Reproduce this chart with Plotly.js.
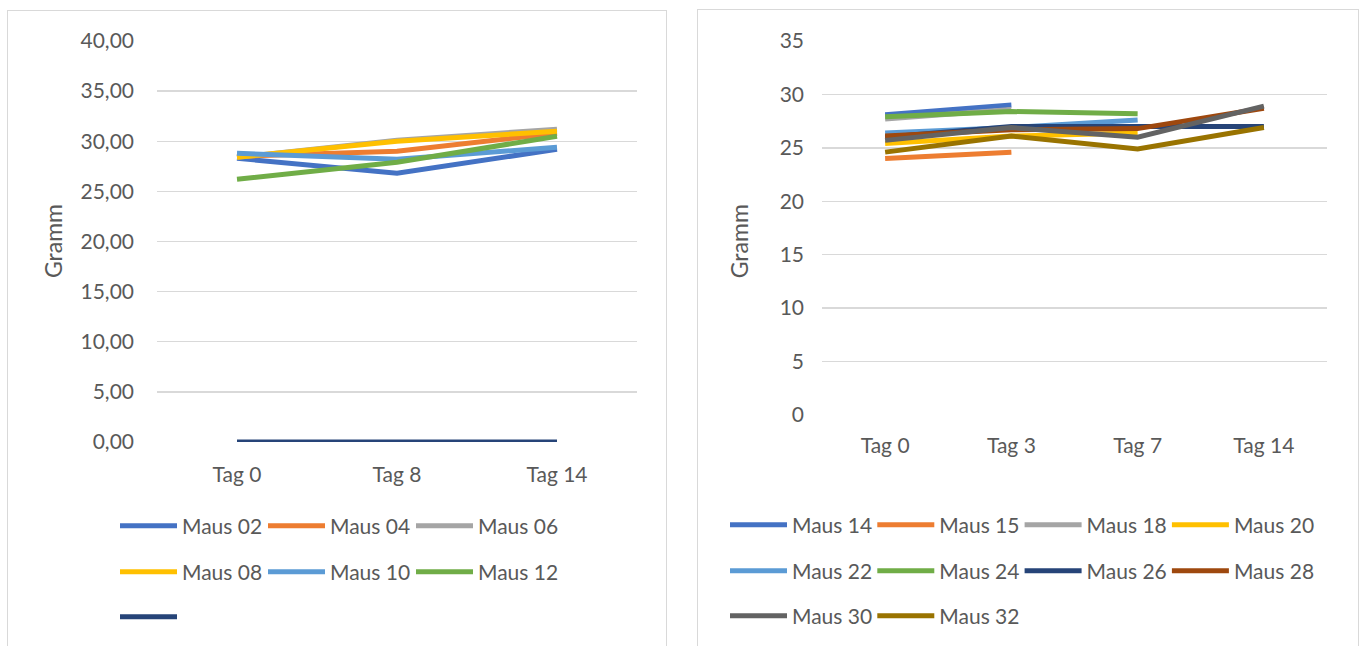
<!DOCTYPE html>
<html>
<head>
<meta charset="utf-8">
<script src="https://cdn.plot.ly/plotly-3.0.1.min.js"></script>
<style>
  html, body { margin: 0; padding: 0; background: #ffffff; width: 1363px; height: 646px; overflow: hidden; }
  .panel { position: absolute; box-sizing: border-box; border: 1px solid #d9d9d9; background: #fff; overflow: hidden; }
  #p1 { left: 7px; top: 10px; width: 660px; height: 650px; }
  #p2 { left: 697px; top: 9px; width: 662px; height: 650px; }
</style>
</head>
<body>
<div class="panel" id="p1"><div id="c1"></div></div>
<div class="panel" id="p2"><div id="c2"></div></div>
<script>
// ---- Left chart data ----
const daysLeft = ["Tag 0", "Tag 8", "Tag 14"];
const namesLeft = ["Maus 02", "Maus 04", "Maus 06", "Maus 08", "Maus 10", "Maus 12", ""];
const maus02 = [28.3, 26.8, 29.2];
const maus04 = [28.5, 29.0, 30.8];
const maus06 = [28.4, 30.1, 31.2];
const maus08 = [28.4, 30.0, 31.0];
const maus10 = [28.8, 28.2, 29.4];
const maus12 = [26.2, 27.9, 30.5];
const mausLeer = [0, 0, 0];
const yTicksLeft = [0, 5, 10, 15, 20, 25, 30, 35, 40];

// ---- Right chart data ----
const daysRight = ["Tag 0", "Tag 3", "Tag 7", "Tag 14"];
const namesRight = ["Maus 14", "Maus 15", "Maus 18", "Maus 20", "Maus 22", "Maus 24", "Maus 26", "Maus 28", "Maus 30", "Maus 32"];
const maus14 = [28.1, 29.0, null, null];
const maus15 = [24.0, 24.6, null, null];
const maus18 = [27.7, 28.6, null, null];
const maus20 = [25.4, 26.1, 26.4, null];
const maus22 = [26.4, 26.9, 27.6, null];
const maus24 = [27.9, 28.4, 28.2, null];
const maus26 = [26.0, 27.0, 27.0, 27.0];
const maus28 = [26.1, 26.7, 26.8, 28.7];
const maus30 = [25.7, 26.9, 26.0, 28.9];
const maus32 = [24.6, 26.1, 24.9, 26.9];
const yTicksRight = [0, 5, 10, 15, 20, 25, 30, 35];

const colors = ["#4472C4", "#ED7D31", "#A5A5A5", "#FFC000", "#5B9BD5", "#70AD47", "#264478", "#9E480E", "#636363", "#997300"];
const FONT = "Lato, 'Open Sans', sans-serif";
const TXT = "#595959";

function mkTrace(x, y, name, color, legend) {
  return { type: "scatter", mode: "lines", x: x, y: y, name: name, legend: legend,
           line: { color: color, width: 5 }, connectgaps: false, hoverinfo: "skip" };
}

function legendCfg(xPos, yPos, ew) {
  return { orientation: "h", xref: "container", yref: "container", x: xPos, y: yPos,
           xanchor: "left", yanchor: "middle", entrywidth: ew, entrywidthmode: "pixels",
           itemwidth: 57, font: { family: FONT, size: 21, color: TXT }, bgcolor: "rgba(0,0,0,0)",
           traceorder: "normal", itemclick: false, itemdoubleclick: false };
}

// Left chart
const leftSeries = [maus02, maus04, maus06, maus08, maus10, maus12, mausLeer];
const leftLegends = ["legend", "legend", "legend", "legend2", "legend2", "legend2", "legend3"];
const tracesL = leftSeries.map((s, i) => mkTrace(daysLeft, s, namesLeft[i], colors[i], leftLegends[i]));

const W1 = 658, H1 = 648;
const layoutL = {
  width: W1, height: H1,
  margin: { l: 149, r: 29, t: 30, b: 216.5 },
  paper_bgcolor: "#fff", plot_bgcolor: "#fff",
  separators: ", ",
  font: { family: FONT, size: 21, color: TXT },
  showlegend: true,
  xaxis: { type: "category", range: [-0.5, 2.5], showgrid: false, zeroline: false, showline: false, ticks: "",
           ticklabelstandoff: 18, tickfont: { family: FONT, size: 21, color: TXT }, fixedrange: true },
  yaxis: { range: [0, 40], tickvals: yTicksLeft, tickformat: ".2f", showgrid: true, gridcolor: "#d9d9d9",
           gridwidth: 1.3, zeroline: false, showline: false, ticks: "", ticklabelstandoff: 22,
           tickfont: { family: FONT, size: 21, color: TXT }, fixedrange: true },
  annotations: [{ text: "Gramm", xref: "paper", yref: "paper", x: -0.218, y: 0.502, textangle: -90,
                  showarrow: false, font: { family: FONT, size: 23, color: TXT }, xanchor: "center", yanchor: "middle" }],
  legend: legendCfg(107 / W1, 1 - 515 / H1, 76),
  legend2: legendCfg(107 / W1, 1 - 561 / H1, 76),
  legend3: legendCfg(107 / W1, 1 - 606 / H1, 76)
};

// Right chart (each legend row is split into two legend boxes of two entries)
const rightSeries = [maus14, maus15, maus18, maus20, maus22, maus24, maus26, maus28, maus30, maus32];
const rightLegends = ["legend", "legend", "legend2", "legend2", "legend3", "legend3", "legend4", "legend4", "legend5", "legend5"];
const tracesR = rightSeries.map((s, i) => mkTrace(daysRight, s, namesRight[i], colors[i], rightLegends[i]));

const W2 = 660, H2 = 648;
const xA = 27, xB = 27 + 2 * 147.3;
const layoutR = {
  width: W2, height: H2,
  margin: { l: 124, r: 31, t: 31, b: 243 },
  paper_bgcolor: "#fff", plot_bgcolor: "#fff",
  font: { family: FONT, size: 21, color: TXT },
  showlegend: true,
  xaxis: { type: "category", range: [-0.5, 3.5], showgrid: false, zeroline: false, showline: false, ticks: "",
           ticklabelstandoff: 16, tickfont: { family: FONT, size: 21, color: TXT }, fixedrange: true },
  yaxis: { range: [0, 35], tickvals: yTicksRight, showgrid: true, gridcolor: "#d9d9d9",
           gridwidth: 1.3, zeroline: false, showline: false, ticks: "", ticklabelstandoff: 17,
           tickfont: { family: FONT, size: 21, color: TXT }, fixedrange: true },
  annotations: [{ text: "Gramm", xref: "paper", yref: "paper", x: -0.164, y: 0.465, textangle: -90,
                  showarrow: false, font: { family: FONT, size: 23, color: TXT }, xanchor: "center", yanchor: "middle" }],
  legend: legendCfg(xA / W2, 1 - 515 / H2, 75.3),
  legend2: legendCfg(xB / W2, 1 - 515 / H2, 75.3),
  legend3: legendCfg(xA / W2, 1 - 561 / H2, 75.3),
  legend4: legendCfg(xB / W2, 1 - 561 / H2, 75.3),
  legend5: legendCfg(xA / W2, 1 - 606 / H2, 75.3)
};

const cfg = { displayModeBar: false, staticPlot: true };
Plotly.newPlot("c1", tracesL, layoutL, cfg);
Plotly.newPlot("c2", tracesR, layoutR, cfg);
</script>
</body>
</html>
